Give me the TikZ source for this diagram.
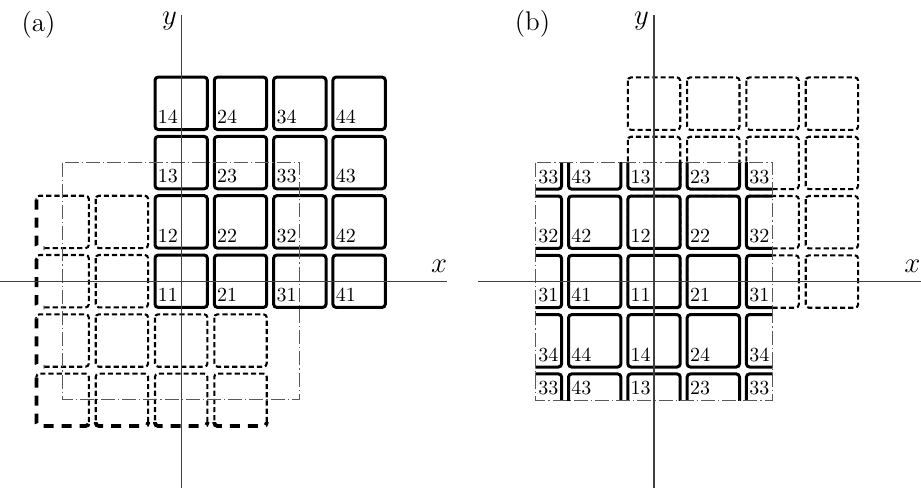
\documentclass[tikz,border=0pt]{standalone}
\begin{document}
\begin{tikzpicture}[x=0.5pt,y=-0.5pt,
  cellsolid/.style={line width=1.5pt, rounded corners=1.6pt},
  celldash/.style={line width=1.05pt, dash pattern=on 2.6pt off 1.5pt, rounded corners=1.6pt},
  cellouter/.style={line width=1.9pt, dash pattern=on 5pt off 4pt, rounded corners=1.6pt},
  dashdotbox/.style={line width=0.55pt, black!65, dash pattern=on 7pt off 1.5pt on 0.6pt off 1.5pt},
  axisline/.style={line width=0.6pt, black!75},
  celllabel/.style={font=\fontsize{10}{12}\selectfont, anchor=base west, inner sep=0pt},
  axislabel/.style={font=\fontsize{14}{16}\selectfont, inner sep=0pt},
  panellabel/.style={font=\fontsize{13.5}{15}\selectfont, inner sep=0pt}]
\useasboundingbox (0,0) rectangle (921,488);
\def\p{59.3}
\def\h{26.2}
% ---------------- panel (a) ----------------
\begin{scope}[shift={(181.2,281.2)}]
  % dashed cells, full
  \foreach \i/\j in {-1/1,-1/0,-1/-1,0/-1,1/-1}{
    \draw[celldash] ({\i*\p-\h},{-\j*\p-\h}) rectangle ({\i*\p+\h},{-\j*\p+\h});
  }
  % left column (outer left edge)
  \foreach \j in {1,0,-1}{
    \pgfmathsetmacro\L{-2*\p-\h}\pgfmathsetmacro\R{-2*\p+\h}
    \pgfmathsetmacro\T{-\j*\p-\h}\pgfmathsetmacro\B{-\j*\p+\h}
    \draw[celldash] (\L+8,\B) -- (\R,\B) -- (\R,\T) -- (\L,\T) -- (\L,\T+4);
    \draw[cellouter] (\L,\T+4) -- (\L,\B) -- (\L+8,\B);
  }
  % bottom row (outer bottom edge)
  \foreach \i in {-1,0,1}{
    \pgfmathsetmacro\L{\i*\p-\h}\pgfmathsetmacro\R{\i*\p+\h}
    \pgfmathsetmacro\T{2*\p-\h}\pgfmathsetmacro\B{2*\p+\h}
    \draw[celldash] (\R,\B-4) -- (\R,\T) -- (\L,\T) -- (\L,\B-4);
    \draw[cellouter] (\L,\B-4) -- (\L,\B) -- (\R,\B) -- (\R,\B-4);
  }
  % corner cell
  \pgfmathsetmacro\L{-2*\p-\h}\pgfmathsetmacro\R{-2*\p+\h}
  \pgfmathsetmacro\T{2*\p-\h}\pgfmathsetmacro\B{2*\p+\h}
  \draw[celldash] (\R,\B-4) -- (\R,\T) -- (\L,\T) -- (\L,\T+4);
  \draw[cellouter] (\L,\T+4) -- (\L,\B) -- (\R,\B) -- (\R,\B-4);
  % solid cells
  \foreach \i in {0,...,3}{
    \foreach \j in {0,...,3}{
      \draw[cellsolid] ({\i*\p-\h},{-\j*\p-\h}) rectangle ({\i*\p+\h},{-\j*\p+\h});
      \pgfmathtruncatemacro\a{\i+1}\pgfmathtruncatemacro\b{\j+1}
      \node[celllabel] (la-\a\b) at ({\i*\p-\h+2.5},{-\j*\p+\h-6}) {\a\b};
    }
  }
  \draw[dashdotbox] ({-2*\p},{-2*\p}) rectangle ({2*\p},{2*\p});
  \coordinate (axl) at (-181.2,0);
  \coordinate (axr) at (266,0);
  \coordinate (ayt) at (0,-266.2);
  \coordinate (ayb) at (0,206.8);
  \draw[axisline] (axl) -- (axr);
  \draw[axisline] (ayt) -- (ayb);
  \node[axislabel] (xa) at (258,-14.7) {$x$};
  \node[axislabel] (ya) at (-11.7,-260.2) {$y$};
  \node[panellabel] (pa) at (-142.7,-256.2) {(a)};
\end{scope}
% ---------------- panel (b) ----------------
\begin{scope}[shift={(654,281.5)}]
  \foreach \i in {0,...,3}{
    \foreach \j in {0,...,3}{
      \draw[celldash] ({\i*\p-\h},{-\j*\p-\h}) rectangle ({\i*\p+\h},{-\j*\p+\h});
    }
  }
  \begin{scope}
    \clip ({-2*\p},{-2*\p}) rectangle ({2*\p},{2*\p});
    \foreach \i in {-2,...,2}{
      \foreach \j in {-2,...,2}{
        \draw[cellsolid] ({\i*\p-\h},{-\j*\p-\h}) rectangle ({\i*\p+\h},{-\j*\p+\h});
      }
    }
  \end{scope}
  \foreach \i in {-2,...,2}{
    \foreach \j in {-2,...,2}{
      \pgfmathtruncatemacro\a{mod(\i+4,4)+1}\pgfmathtruncatemacro\b{mod(\j+4,4)+1}
      \pgfmathsetmacro\vl{max(\i*\p-\h,-2*\p)}
      \pgfmathsetmacro\vb{min(-\j*\p+\h,2*\p)}
      \pgfmathtruncatemacro\ci{\i+2}\pgfmathtruncatemacro\cj{\j+2}
      \node[celllabel] (lb-\ci-\cj) at (\vl+2.5,\vb-6) {\a\b};
    }
  }
  \draw[dashdotbox] ({-2*\p},{-2*\p}) rectangle ({2*\p},{2*\p});
  \coordinate (bxl) at (-176,0);
  \coordinate (bxr) at (267,0);
  \coordinate (byt) at (0,-266.5);
  \coordinate (byb) at (0,206.5);
  \draw[axisline] (bxl) -- (bxr);
  \draw[axisline] (byt) -- (byb);
  \node[axislabel] (xb) at (258.5,-15) {$x$};
  \node[axislabel] (yb) at (-12.5,-260.5) {$y$};
  \node[panellabel] (pb) at (-121.5,-257.5) {(b)};
\end{scope}
\end{tikzpicture}
\end{document}
